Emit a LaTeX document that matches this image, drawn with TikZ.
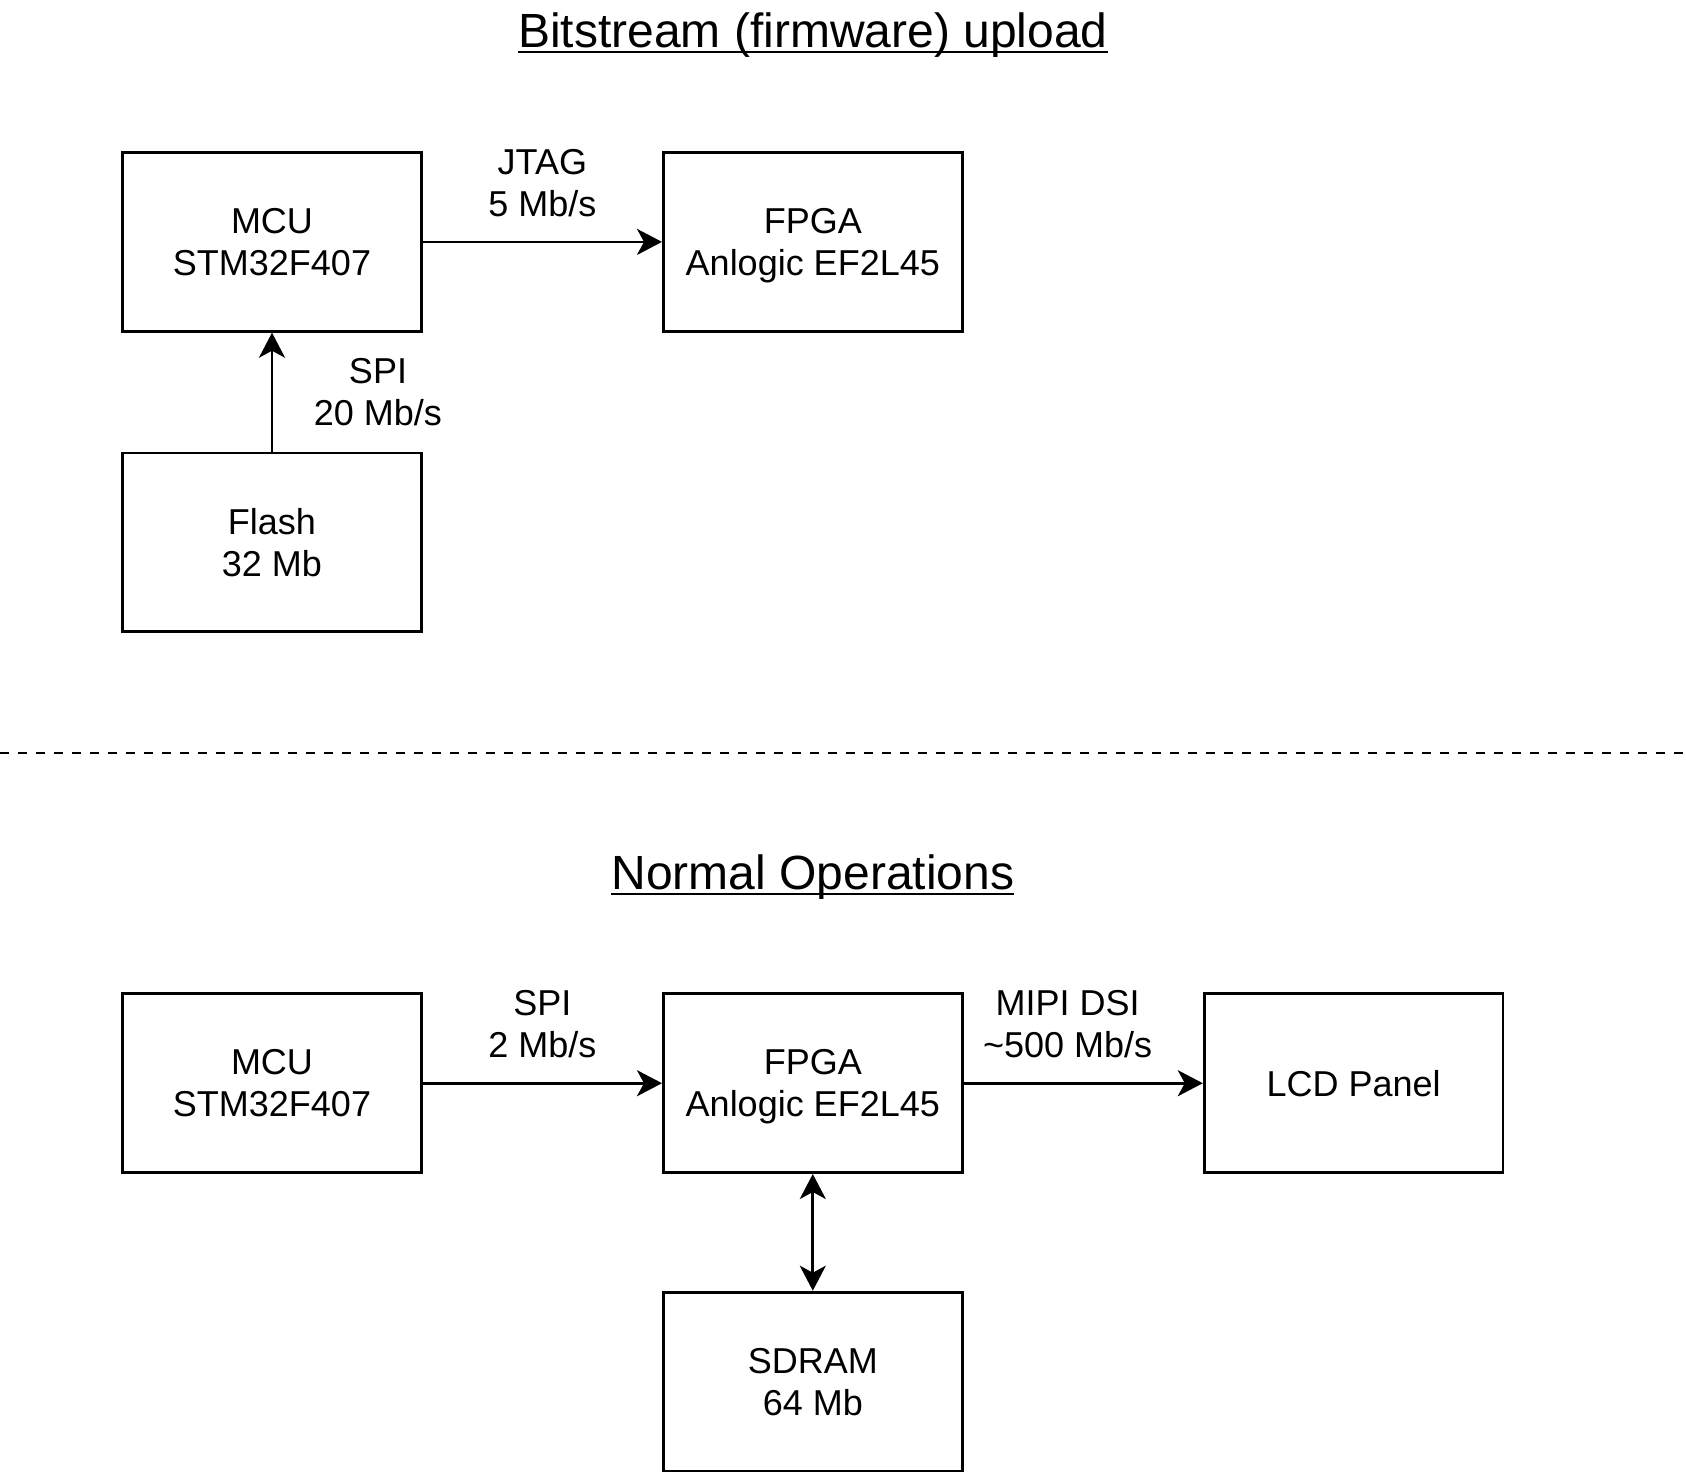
\documentclass[tikz,border=0pt]{standalone}
\usepackage{fontspec}
\setmainfont{Liberation Sans}
\usetikzlibrary{arrows.meta}
\newcommand{\ultitle}[1]{\setbox0\hbox{#1}\rlap{\rule[-0.13em]{\wd0}{0.055em}}\box0}

\begin{document}
\begin{tikzpicture}[x=0.5pt,y=-0.5pt,
    blk/.style={draw,line width=1.4pt,minimum width=149.4pt,minimum height=89.4pt,
      inner sep=0pt,text depth=0pt,align=center,font=\fontsize{18}{21}\selectfont},
    lbl/.style={align=center,font=\fontsize{18}{21}\selectfont},
    tip/.style={Stealth[length=12.5pt,width=13pt,inset=3.5pt]},
    link/.style={line width=1.4pt,-{Stealth[length=12.5pt,width=13pt,inset=3.5pt]}},
    ttl/.style={anchor=base,font=\fontsize{24}{28}\selectfont}]
      \useasboundingbox (0,0) rectangle (1686,1473);%

      % bitstream upload
      \node[ttl] (titleA) at (812.8,47) {\ultitle{Bitstream (firmware) upload}};%

      \node[blk] (mcuA) at (272,241.9) {MCU\\STM32F407};%
      \node[blk] (fpgaA) at (812.8,241.9) {FPGA\\Anlogic EF2L45};%
      \node[blk] (flash) at (272,542.4) {Flash\\32 Mb};%

      \draw[link] (mcuA) -- (fpgaA) node[lbl,midway,yshift=29.6pt] {JTAG\\5 Mb/s};%
      \draw[link] (flash) -- (mcuA) node[lbl,midway,xshift=53pt] {SPI\\20 Mb/s};%

      \draw[line width=1.4pt,dash pattern=on 4.5pt off 4.5pt] (0,753) -- (1686,753);%

      % normal operations
      \node[ttl] (titleB) at (812.8,889) {\ultitle{Normal Operations}};%

      \node[blk] (mcuB) at (272,1083.2) {MCU\\STM32F407};%
      \node[blk] (fpgaB) at (812.8,1083.2) {FPGA\\Anlogic EF2L45};%
      \node[blk] (lcd) at (1353.6,1083.2) {LCD Panel};%
      \node[blk] (sdram) at (812.8,1381.5) {SDRAM\\64 Mb};%

      \draw[link] (mcuB) -- (fpgaB) node[lbl,midway,yshift=29.6pt] {SPI\\2 Mb/s};%
      \draw[link] (fpgaB) -- (lcd) node[lbl,midway,xshift=-7.8pt,yshift=29.6pt] {MIPI DSI\\\textasciitilde500 Mb/s};%
      \draw[line width=1.4pt,{Stealth[length=12.5pt,width=13pt,inset=3.5pt]}-{Stealth[length=12.5pt,width=13pt,inset=3.5pt]}] (fpgaB) -- (sdram);%
    \end{tikzpicture}
\end{document}
